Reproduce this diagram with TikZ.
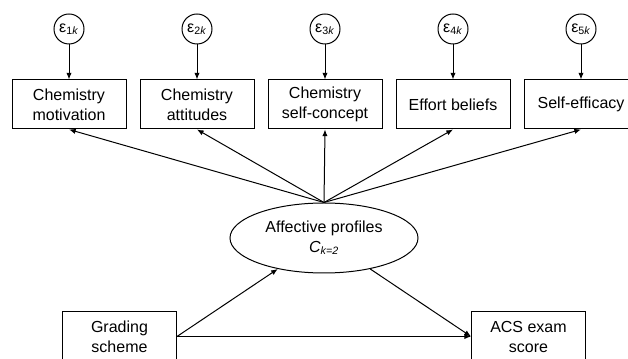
\documentclass[tikz,border=0pt]{standalone}
\usepackage{fontspec}
\setmainfont{Liberation Sans}
\usetikzlibrary{arrows.meta,positioning,shapes.geometric}

\begin{document}
\begin{tikzpicture}[x=0.75pt, y=-0.75pt, >={Latex[length=5pt,width=4pt]},
  font=\fontsize{12}{15}\selectfont, node distance=26.25pt and 9.75pt,
  box/.style={draw, line width=0.75pt, align=center, minimum height=36.75pt, minimum width=85.5pt, inner sep=2pt},
  err/.style={draw, circle, line width=0.75pt, minimum size=22.5pt, inner sep=0pt},
  latent/.style={draw, ellipse, line width=0.75pt, align=center, minimum width=141pt, minimum height=52.5pt, inner sep=0pt},
  arrow/.style={->, line width=0.75pt}]
  \useasboundingbox (0,0) rectangle (628,359);
  \clip (0,0) rectangle (628,359);
  % indicators
  \node[box] (motiv) at (69,104.5) {Chemistry\\motivation};
  \node[box, right=of motiv] (attit) {Chemistry\\attitudes};
  \node[box, right=of attit] (concept) {Chemistry\\self-concept};
  \node[box, right=of concept] (effort) {Effort beliefs};
  \node[box, right=of effort] (efficacy) {Self-efficacy};
  % residuals
  \node[err, above=of motiv] (e1) {{\large ε}\textsubscript{1\textit{k}}};
  \node[err, above=of attit] (e2) {{\large ε}\textsubscript{2\textit{k}}};
  \node[err, above=of concept] (e3) {{\large ε}\textsubscript{3\textit{k}}};
  \node[err, above=of effort] (e4) {{\large ε}\textsubscript{4\textit{k}}};
  \node[err, above=of efficacy] (e5) {{\large ε}\textsubscript{5\textit{k}}};
  % latent class and observed variables
  \node[latent] (profiles) at (324,238) {Affective profiles\\{\textit{C\textsubscript{k=2}}}};
  \node[box] (grading) at (119.5,336.5) {Grading\\scheme};
  \node[box] (acs) at (528.5,336.5) {ACS exam\\score};
  \foreach \e/\b in {e1/motiv, e2/attit, e3/concept, e4/effort, e5/efficacy}
    \draw[arrow] (\e) -- (\b);
  \foreach \b in {motiv, attit, concept, effort, efficacy}
    \draw[arrow] (profiles.north) -- (\b.south);
  \draw[arrow] (grading.east) -- (profiles);
  \draw[arrow] (profiles) -- (acs.west);
  \draw[arrow] (grading) -- (acs);
\end{tikzpicture}
\end{document}
